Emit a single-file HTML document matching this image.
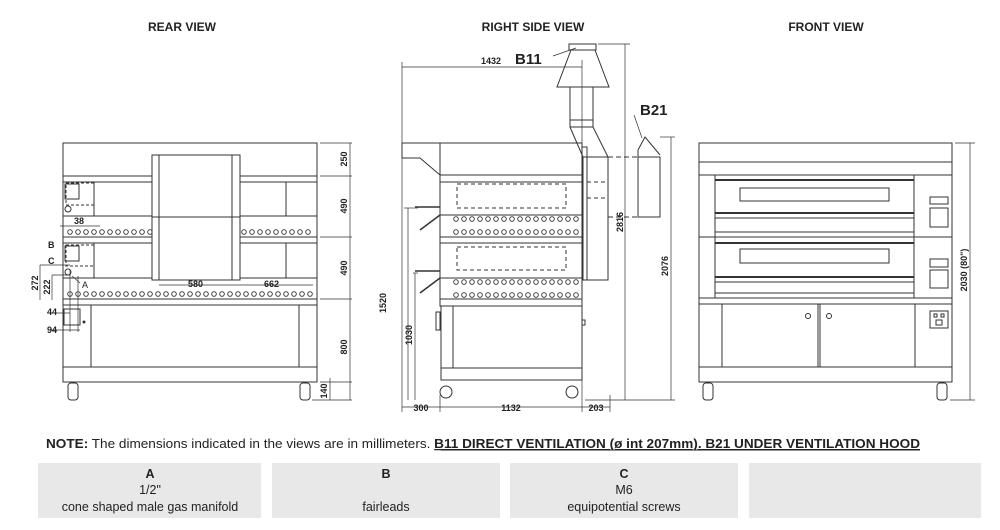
<!DOCTYPE html>
<html><head><meta charset="utf-8"><style>
html,body{margin:0;padding:0;background:#fff;}
svg{display:block;}
text{font-family:"Liberation Sans",sans-serif;fill:#222;}
</style></head><body>
<svg width="1000" height="530" viewBox="0 0 1000 530" xmlns="http://www.w3.org/2000/svg">
<defs>
<pattern id="dots" x="0" y="0" width="8" height="8" patternUnits="userSpaceOnUse">
<circle cx="4" cy="4" r="2.3" fill="none" stroke="#333" stroke-width="0.9"/>
</pattern>
</defs>
<g stroke="#333" stroke-width="1" fill="none">

<!-- ===== REAR VIEW ===== -->
<rect x="63" y="143" width="254" height="239"/>
<line x1="63" y1="176" x2="317" y2="176"/><line x1="63" y1="182" x2="317" y2="182"/>
<line x1="63" y1="216" x2="317" y2="216"/><line x1="63" y1="237" x2="317" y2="237"/><line x1="63" y1="243" x2="317" y2="243"/>
<line x1="63" y1="278" x2="317" y2="278"/><line x1="63" y1="299" x2="317" y2="299"/><line x1="63" y1="305" x2="317" y2="305"/>
<line x1="63" y1="367" x2="317" y2="367"/>
<line x1="91" y1="305" x2="91" y2="367"/><line x1="299" y1="305" x2="299" y2="367"/>
<line x1="94" y1="182" x2="94" y2="216"/><line x1="94" y1="243" x2="94" y2="278"/>
<line x1="286" y1="182" x2="286" y2="216"/><line x1="286" y1="243" x2="286" y2="278"/>
<rect x="66" y="183" width="28" height="22" stroke-dasharray="3,2"/>
<rect x="66" y="245" width="28" height="21" stroke-dasharray="3,2"/>
<rect x="65" y="184" width="14" height="15"/><rect x="65" y="246" width="14" height="15"/>
<circle cx="68" cy="209" r="3"/><circle cx="68" cy="272" r="3"/>
<rect x="64" y="309" width="16" height="16"/><circle cx="84" cy="322" r="1" fill="#333"/>
<g transform="translate(66,228)"><rect x="0" y="0" width="86" height="8" fill="url(#dots)" stroke="none"/></g>
<g transform="translate(240,228)"><rect x="0" y="0" width="72" height="8" fill="url(#dots)" stroke="none"/></g>
<g transform="translate(66,290)"><rect x="0" y="0" width="248" height="8" fill="url(#dots)" stroke="none"/></g>
<rect x="152" y="155" width="88" height="125" fill="#fff"/>
<line x1="159" y1="155" x2="159" y2="280"/><line x1="232" y1="155" x2="232" y2="280"/>
<line x1="152" y1="217" x2="240" y2="217"/>
<rect x="68" y="383" width="10" height="17" rx="3"/><rect x="300" y="383" width="10" height="17" rx="3"/>
<line x1="350" y1="143" x2="350" y2="400" stroke-width="0.7"/>
<g stroke-width="0.7"><line x1="320" y1="143" x2="352" y2="143"/><line x1="320" y1="176" x2="352" y2="176"/><line x1="320" y1="237" x2="352" y2="237"/><line x1="320" y1="299" x2="352" y2="299"/><line x1="320" y1="382" x2="352" y2="382"/>
<line x1="330" y1="378" x2="330" y2="400"/><line x1="312" y1="400" x2="352" y2="400"/>
<line x1="60" y1="226" x2="100" y2="226"/><line x1="159" y1="285" x2="232" y2="285"/><line x1="232" y1="285" x2="313" y2="285"/>
<line x1="40" y1="265" x2="70" y2="265"/><line x1="40" y1="265" x2="40" y2="300"/><line x1="52" y1="275" x2="70" y2="275"/><line x1="52" y1="275" x2="52" y2="300"/>
<line x1="48" y1="313" x2="70" y2="313"/><line x1="48" y1="330" x2="80" y2="330"/><line x1="70" y1="270" x2="70" y2="332"/><line x1="78" y1="276" x2="78" y2="332"/>
<line x1="72" y1="276" x2="80" y2="283"/></g>
</g>
<g font-size="9" font-weight="bold">
<text x="74" y="224">38</text>
<text x="188" y="287">580</text><text x="264" y="287">662</text>
<text x="48" y="248">B</text><text x="48" y="264">C</text>
<text x="82" y="288" font-weight="normal">A</text>
<text x="47" y="315">44</text><text x="47" y="333">94</text>
<text transform="translate(38,283) rotate(-90)" text-anchor="middle">272</text>
<text transform="translate(50,287) rotate(-90)" text-anchor="middle">222</text>
<text transform="translate(347,159) rotate(-90)" text-anchor="middle">250</text>
<text transform="translate(347,206) rotate(-90)" text-anchor="middle">490</text>
<text transform="translate(347,268) rotate(-90)" text-anchor="middle">490</text>
<text transform="translate(347,347) rotate(-90)" text-anchor="middle">800</text>
<text transform="translate(327,391) rotate(-90)" text-anchor="middle">140</text>
</g>

<!-- ===== RIGHT SIDE VIEW ===== -->
<g stroke="#333" stroke-width="1" fill="none">
<rect x="440" y="143" width="142" height="163"/>
<path d="M402 143 H440 M402 143 V158 H420 L440 175"/>
<line x1="440" y1="175" x2="582" y2="175"/><line x1="440" y1="182" x2="582" y2="182"/>
<line x1="440" y1="215" x2="582" y2="215"/><line x1="440" y1="237" x2="582" y2="237"/><line x1="440" y1="243" x2="582" y2="243"/>
<line x1="440" y1="278" x2="582" y2="278"/><line x1="440" y1="299" x2="582" y2="299"/>
<rect x="457" y="184" width="109" height="24" stroke-dasharray="4,3"/>
<rect x="457" y="247" width="109" height="23" stroke-dasharray="4,3"/>
<g transform="translate(452,215)"><rect x="0" y="0" width="128" height="8" fill="url(#dots)" stroke="none"/></g>
<g transform="translate(452,228)"><rect x="0" y="0" width="128" height="8" fill="url(#dots)" stroke="none"/></g>
<g transform="translate(452,278)"><rect x="0" y="0" width="128" height="8" fill="url(#dots)" stroke="none"/></g>
<g transform="translate(452,291)"><rect x="0" y="0" width="128" height="8" fill="url(#dots)" stroke="none"/></g>
<rect x="441" y="306" width="141" height="74"/><line x1="453" y1="306" x2="453" y2="368"/><line x1="441" y1="368" x2="582" y2="368"/>
<rect x="436" y="312" width="4" height="18"/><rect x="582" y="320" width="3" height="5"/>
<circle cx="446" cy="392" r="6"/><circle cx="572" cy="392" r="6"/>
<path d="M415 207 H440 M420 230 L440 215 M415 271 H440 M420 293 L440 278" stroke-width="1.5"/>
<rect x="569" y="44" width="27" height="6"/>
<path d="M571 50 H595 L609 87 H557 Z"/>
<rect x="570" y="87" width="23" height="33"/><rect x="570" y="120" width="23" height="7"/>
<path d="M570 127 L583 157 M593 127 L608 157"/>
<rect x="583" y="157" width="25" height="123"/><rect x="582" y="147" width="5" height="133"/>
<line x1="587" y1="182" x2="608" y2="182" stroke-dasharray="4,3"/><line x1="587" y1="198" x2="608" y2="198" stroke-dasharray="4,3"/>
<line x1="608" y1="157" x2="638" y2="157" stroke-dasharray="5,3"/><line x1="608" y1="217" x2="638" y2="217" stroke-dasharray="5,3"/>
<rect x="638" y="157" width="22" height="60"/><path d="M638 157 V150 L645 137 L660 155"/>
<line x1="634" y1="115" x2="642" y2="138" stroke-width="0.7"/>
<line x1="553" y1="56" x2="576" y2="48" stroke-width="0.7"/>
<g stroke-width="0.7">
<line x1="402" y1="67" x2="582" y2="67"/><line x1="402" y1="62" x2="402" y2="412"/><line x1="582" y1="60" x2="582" y2="412"/>
<line x1="598" y1="44" x2="630" y2="44"/><line x1="625" y1="44" x2="625" y2="400"/><line x1="585" y1="400" x2="675" y2="400"/>
<line x1="660" y1="137" x2="675" y2="137"/><line x1="671" y1="137" x2="671" y2="400"/>
<line x1="404" y1="208" x2="418" y2="208"/><line x1="408" y1="208" x2="408" y2="400"/>
<line x1="413" y1="273" x2="418" y2="273"/><line x1="415" y1="273" x2="415" y2="400"/>
<line x1="402" y1="407" x2="610" y2="407"/><line x1="440" y1="395" x2="440" y2="412"/><line x1="610" y1="395" x2="610" y2="412"/>
</g>
</g>
<g font-size="9" font-weight="bold">
<text x="481" y="64">1432</text>
<text x="515" y="64" font-size="15">B11</text>
<text x="640" y="115" font-size="15">B21</text>
<text x="421" y="411" text-anchor="middle">300</text><text x="511" y="411" text-anchor="middle">1132</text><text x="596" y="411" text-anchor="middle">203</text>
<text transform="translate(623,222) rotate(-90)" text-anchor="middle">2816</text>
<text transform="translate(668,266) rotate(-90)" text-anchor="middle">2076</text>
<text transform="translate(386,303) rotate(-90)" text-anchor="middle">1520</text>
<text transform="translate(412,335) rotate(-90)" text-anchor="middle">1030</text>
</g>

<!-- ===== FRONT VIEW ===== -->
<g stroke="#333" stroke-width="1" fill="none">
<rect x="699" y="143" width="253" height="239"/>
<line x1="699" y1="162" x2="952" y2="162"/><line x1="699" y1="175" x2="952" y2="175"/>
<rect x="715" y="175" width="199" height="123"/>
<line x1="715" y1="180" x2="914" y2="180" stroke-width="2"/><line x1="715" y1="213" x2="914" y2="213" stroke-width="2"/>
<rect x="740" y="188" width="149" height="13"/>
<line x1="715" y1="218" x2="914" y2="218"/><line x1="715" y1="232" x2="914" y2="232"/><line x1="699" y1="237" x2="952" y2="237"/>
<line x1="715" y1="243" x2="914" y2="243" stroke-width="2"/><line x1="715" y1="277" x2="914" y2="277" stroke-width="2"/>
<rect x="740" y="249" width="149" height="14"/>
<line x1="715" y1="282" x2="914" y2="282"/><line x1="715" y1="293" x2="914" y2="293"/>
<line x1="699" y1="298" x2="952" y2="298"/><line x1="699" y1="304" x2="952" y2="304"/>
<line x1="722" y1="304" x2="722" y2="367"/><line x1="818" y1="304" x2="818" y2="367"/><line x1="820" y1="304" x2="820" y2="367"/><line x1="915" y1="304" x2="915" y2="367"/>
<line x1="699" y1="367" x2="952" y2="367"/>
<rect x="930" y="197" width="18" height="7"/><rect x="930" y="208" width="18" height="19"/>
<rect x="930" y="259" width="18" height="8"/><rect x="930" y="270" width="18" height="18"/>
<rect x="930" y="311" width="18" height="17"/><rect x="934" y="314" width="3" height="3"/><rect x="941" y="314" width="3" height="3"/><rect x="936" y="320" width="6" height="5"/>
<circle cx="808" cy="316" r="2.5"/><circle cx="829" cy="316" r="2.5"/>
<rect x="703" y="383" width="10" height="17" rx="3"/><rect x="937" y="383" width="10" height="17" rx="3"/>
<g stroke-width="0.7"><line x1="955" y1="143" x2="975" y2="143"/><line x1="970" y1="143" x2="970" y2="400"/><line x1="950" y1="400" x2="975" y2="400"/></g>
</g>
<text transform="translate(967,270) rotate(-90)" text-anchor="middle" font-size="9" font-weight="bold">2030 (80")</text>

<g font-size="12" font-weight="bold" text-anchor="middle">
<text x="182" y="31">REAR VIEW</text>
<text x="533" y="31">RIGHT SIDE VIEW</text>
<text x="826" y="31">FRONT VIEW</text>
</g>

<text x="46" y="448" font-size="12.5" textLength="874" lengthAdjust="spacingAndGlyphs"><tspan font-weight="bold">NOTE:</tspan> The dimensions indicated in the views are in millimeters. <tspan font-weight="bold" text-decoration="underline">B11 DIRECT VENTILATION (ø int 207mm). B21 UNDER VENTILATION HOOD</tspan></text>
<line x1="441" y1="450" x2="920" y2="450" stroke="#222" stroke-width="1"/>

<g fill="#e8e8e9">
<rect x="38" y="463" width="223" height="55"/>
<rect x="272" y="463" width="228" height="55"/>
<rect x="510" y="463" width="228" height="55"/>
<rect x="749" y="463" width="232" height="55"/>
</g>
<g font-size="12.5" text-anchor="middle">
<text x="150" y="478" font-weight="bold">A</text><text x="150" y="494">1/2"</text><text x="150" y="511">cone shaped male gas manifold</text>
<text x="386" y="478" font-weight="bold">B</text><text x="386" y="511">fairleads</text>
<text x="624" y="478" font-weight="bold">C</text><text x="624" y="494">M6</text><text x="624" y="511">equipotential screws</text>
</g>
</svg>
</body></html>
